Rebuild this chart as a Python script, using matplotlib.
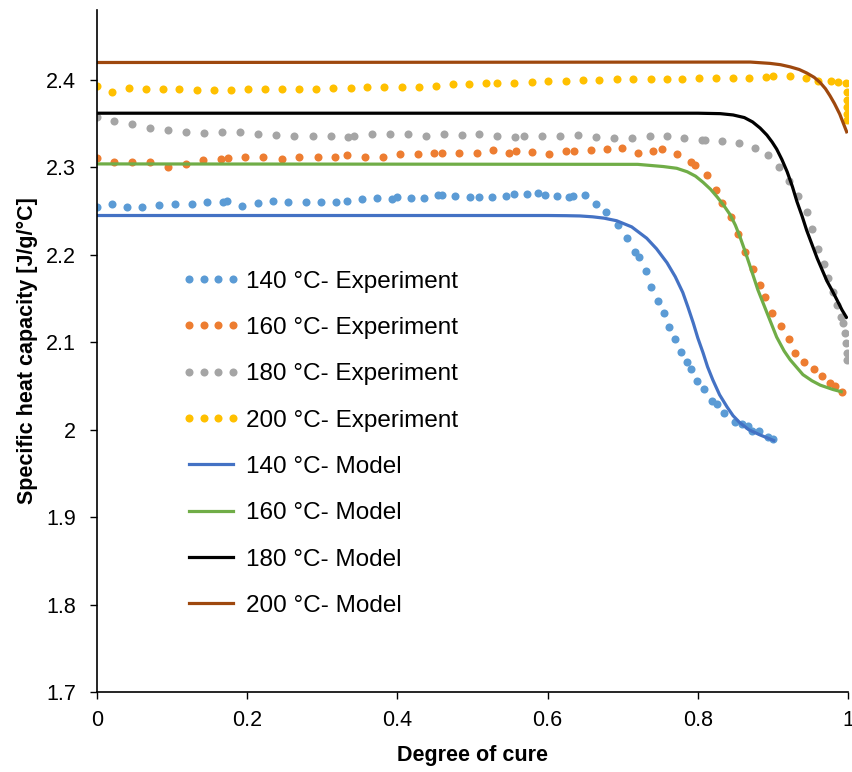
import matplotlib
matplotlib.use("Agg")
from matplotlib import pyplot as plt
from matplotlib.lines import Line2D

plt.rcParams['font.family'] = ['Liberation Sans', 'DejaVu Sans']

# experiment points (degree of cure, cp)
x140 = [0, .02, .04, .06, .083, .104, .126, .146, .168, .173, .193, .214, .234, .254, .278, .298,
        .318, .333, .353, .373, .393, .399, .418, .435, .454, .46, .477, .497, .509, .526, .545,
        .555, .573, .587, .597, .613, .629, .634, .650, .664, .678, .694, .706, .716, .722, .731,
        .738, .747, .755, .762, .770, .777, .785, .791, .799, .808, .819, .826, .835, .850, .859,
        .867, .872, .882, .894, .900]
y140 = [2.255, 2.258, 2.255, 2.255, 2.257, 2.258, 2.258, 2.261, 2.261, 2.262, 2.256, 2.259, 2.262,
        2.261, 2.261, 2.261, 2.261, 2.262, 2.264, 2.265, 2.264, 2.266, 2.265, 2.265, 2.268, 2.268,
        2.267, 2.266, 2.266, 2.266, 2.267, 2.270, 2.270, 2.271, 2.268, 2.267, 2.266, 2.267, 2.268,
        2.258, 2.249, 2.234, 2.219, 2.203, 2.197, 2.181, 2.163, 2.147, 2.134, 2.117, 2.104, 2.089,
        2.078, 2.069, 2.056, 2.046, 2.033, 2.029, 2.019, 2.009, 2.006, 2.004, 1.998, 1.998, 1.992,
        1.989]

x160 = [0, .023, .047, .071, .094, .118, .141, .165, .175, .197, .221, .246, .269, .294, .317, .333,
        .357, .381, .403, .427, .449, .459, .482, .506, .527, .549, .558, .579, .602, .624, .635,
        .658, .679, .699, .720, .740, .752, .772, .791, .796, .812, .824, .832, .844, .853, .863,
        .873, .883, .889, .899, .911, .921, .929, .941, .955, .965, .976, .983, .992]
y160 = [2.311, 2.306, 2.306, 2.306, 2.301, 2.304, 2.309, 2.310, 2.311, 2.312, 2.312, 2.310, 2.312,
        2.312, 2.312, 2.314, 2.312, 2.312, 2.315, 2.315, 2.317, 2.317, 2.317, 2.317, 2.320, 2.317,
        2.319, 2.318, 2.315, 2.319, 2.319, 2.320, 2.321, 2.322, 2.317, 2.319, 2.321, 2.315, 2.306,
        2.303, 2.291, 2.274, 2.259, 2.243, 2.224, 2.203, 2.184, 2.165, 2.152, 2.134, 2.119, 2.104,
        2.088, 2.078, 2.070, 2.061, 2.054, 2.050, 2.043]

x180 = [0, .023, .047, .071, .094, .118, .142, .166, .191, .215, .239, .263, .287, .311, .334, .342,
        .366, .390, .414, .438, .462, .486, .509, .533, .557, .569, .593, .617, .640, .664, .688,
        .712, .736, .759, .782, .806, .810, .832, .855, .876, .893, .908, .921, .933, .945, .952,
        .960, .968, .973, .980, .985, .991, .993, .996, .997, .999, .999]
y180 = [2.358, 2.353, 2.350, 2.345, 2.343, 2.340, 2.339, 2.341, 2.340, 2.338, 2.337, 2.336, 2.336,
        2.336, 2.335, 2.336, 2.338, 2.338, 2.338, 2.336, 2.338, 2.337, 2.338, 2.336, 2.335, 2.336,
        2.336, 2.336, 2.337, 2.335, 2.334, 2.334, 2.336, 2.336, 2.334, 2.331, 2.331, 2.330, 2.328,
        2.322, 2.314, 2.300, 2.285, 2.267, 2.249, 2.230, 2.207, 2.189, 2.174, 2.158, 2.143, 2.129,
        2.122, 2.111, 2.099, 2.088, 2.080]

x200 = [0, .02, .043, .065, .088, .109, .133, .156, .178, .201, .224, .246, .269, .292, .314, .338,
        .360, .382, .406, .429, .451, .474, .495, .518, .533, .555, .579, .601, .624, .647, .668,
        .692, .714, .738, .759, .779, .802, .824, .847, .868, .891, .900, .923, .944, .960, .978,
        .987, .997, .999, .999, .999, .999, .999]
y200 = [2.393, 2.386, 2.391, 2.390, 2.390, 2.390, 2.389, 2.389, 2.389, 2.390, 2.390, 2.390, 2.390,
        2.390, 2.391, 2.391, 2.392, 2.392, 2.392, 2.392, 2.393, 2.395, 2.395, 2.396, 2.396, 2.396,
        2.398, 2.399, 2.399, 2.400, 2.400, 2.401, 2.401, 2.401, 2.401, 2.401, 2.402, 2.402, 2.402,
        2.402, 2.403, 2.404, 2.405, 2.402, 2.399, 2.399, 2.398, 2.396, 2.386, 2.377, 2.369, 2.361,
        2.354]

# model curves
mx140 = [0, .60, .625, .643, .66, .675, .692, .712, .732, .745, .759, .770, .780, .787, .794, .800,
         .807, .813, .820, .829, .839, .847, .856, .868, .883, .903]
my140 = [2.245, 2.245, 2.2448, 2.2445, 2.2435, 2.242, 2.239, 2.232, 2.219, 2.207, 2.191, 2.175,
         2.157, 2.140, 2.122, 2.105, 2.088, 2.072, 2.057, 2.040, 2.026, 2.016, 2.008, 2.000, 1.994,
         1.987]

mx160 = [0, .72, .754, .772, .786, .797, .807, .817, .826, .835, .843, .850, .856, .863, .870, .880,
         .892, .905, .915, .923, .932, .940, .952, .963, .980, .993]
my160 = [2.304, 2.3035, 2.301, 2.299, 2.295, 2.290, 2.283, 2.275, 2.266, 2.256, 2.246, 2.234, 2.221,
         2.204, 2.186, 2.160, 2.134, 2.106, 2.090, 2.080, 2.071, 2.063, 2.056, 2.051, 2.046, 2.043]

mx180 = [0, .80, .83, .847, .862, .873, .883, .892, .899, .905, .912, .919, .926, .932, .939, .945,
         .952, .959, .966, .972, .979, .985, .992, .999]
my180 = [2.362, 2.362, 2.3615, 2.360, 2.357, 2.352, 2.345, 2.337, 2.329, 2.321, 2.309, 2.295, 2.278,
         2.261, 2.244, 2.228, 2.212, 2.196, 2.182, 2.170, 2.159, 2.149, 2.137, 2.127]

mx200 = [0, .87, .896, .910, .923, .935, .945, .955, .963, .970, .976, .982, .989, .994, .999]
my200 = [2.42, 2.4205, 2.419, 2.4175, 2.415, 2.412, 2.408, 2.403, 2.397, 2.390, 2.382, 2.373, 2.361,
         2.350, 2.339]

exp_colors = ['#5B9BD5', '#ED7D31', '#A5A5A5', '#FFC000']
mod_colors = ['#4472C4', '#70AD47', '#000000', '#9E480E']
temps = ['140', '160', '180', '200']

fig = plt.figure(figsize=(8.52, 7.72), dpi=100)
ax = fig.add_axes([0.1138, 0.1036, 0.8815, 0.8834])

exps = [(x140, y140), (x160, y160), (x180, y180), (x200, y200)]
mods = [(mx140, my140), (mx160, my160), (mx180, my180), (mx200, my200)]

for (xs, ys), c in zip(exps, exp_colors):
    ax.plot(xs, ys, linestyle='none', marker='o', markersize=5.8, color=c, markeredgewidth=0)
for (xs, ys), c in zip(mods, mod_colors):
    ax.plot(xs, ys, color=c, linewidth=2.3, solid_capstyle='butt', solid_joinstyle='round')

handles = []
labels = []
for t, c in zip(temps, exp_colors):
    handles.append(Line2D([], [], linestyle='none', marker='o', markersize=5.8, color=c,
                          markeredgewidth=0))
    labels.append(t + ' °C- Experiment')
for t, c in zip(temps, mod_colors):
    handles.append(Line2D([], [], color=c, linewidth=2.3))
    labels.append(t + ' °C- Model')

ax.legend(handles, labels, loc='upper left', bbox_to_anchor=(0.084, 0.65), frameon=False,
          fontsize=17.5, numpoints=4, handlelength=2.4, handletextpad=0.25, labelspacing=1.0)

ax.set_xlim(0, 1)
ax.set_ylim(1.7, 2.48)
ax.set_xticks([0, 0.2, 0.4, 0.6, 0.8, 1])
ax.set_xticklabels(['0', '0.2', '0.4', '0.6', '0.8', '1'])
ax.set_yticks([1.7, 1.8, 1.9, 2.0, 2.1, 2.2, 2.3, 2.4])
ax.set_yticklabels(['1.7', '1.8', '1.9', '2', '2.1', '2.2', '2.3', '2.4'])
ax.tick_params(labelsize=15.5, length=5, width=1, direction='out')
ax.tick_params(axis='y', pad=10)
ax.tick_params(axis='x', pad=8)
for s in ['top', 'right']:
    ax.spines[s].set_visible(False)
for s in ['left', 'bottom']:
    ax.spines[s].set_linewidth(1.2)
ax.set_xlabel('Degree of cure', fontsize=15.5, fontweight='bold', labelpad=10)
ax.set_ylabel('Specific heat capacity [J/g/°C]', fontsize=15.5, fontweight='bold', labelpad=6)

fig.savefig('out.png', dpi=100)
